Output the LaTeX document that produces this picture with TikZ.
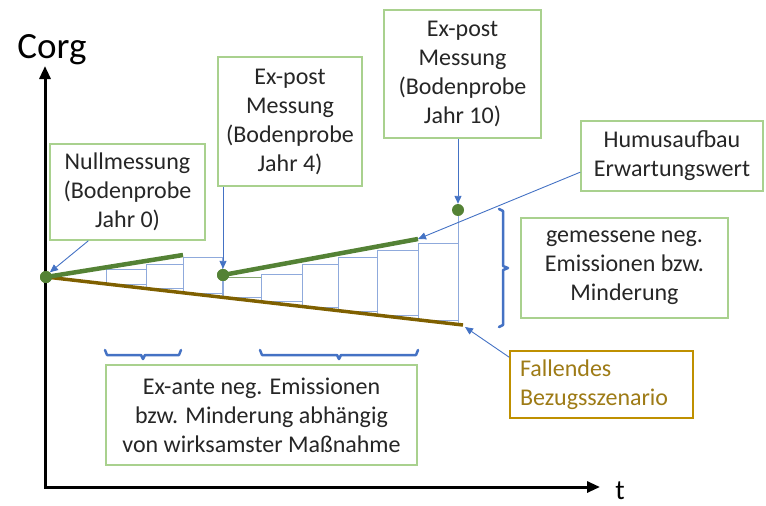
\documentclass[tikz,border=0pt]{standalone}
\usepackage{fontspec}
\setmainfont{Carlito}
\usetikzlibrary{arrows.meta,calc}
\definecolor{gbox}{HTML}{A9D18E}
\definecolor{gline}{HTML}{548235}
\definecolor{bline}{HTML}{7F6000}
\definecolor{stepblue}{HTML}{8FAADC}
\definecolor{connblue}{HTML}{4472C4}
\definecolor{goldbox}{HTML}{BF9000}
\definecolor{goldtext}{HTML}{9E7B16}
\definecolor{txt}{HTML}{262626}
\begin{document}
\begin{tikzpicture}[x=1pt,y=-1pt,
  lbl/.style={draw=gbox, line width=1.5pt, fill=white, align=center, inner sep=0pt,
    font=\fontsize{24}{29}\selectfont, text=txt},
  conn/.style={draw=connblue, line width=0.9pt, -{Triangle[length=8pt,width=7pt]}},
  stepl/.style={draw=stepblue, line width=1pt},
  dot/.style={circle, fill=gline, inner sep=0pt, minimum size=12pt},
  bracel/.style={draw=connblue, line width=2.5pt, line cap=round, line join=round},
  axis/.style={draw=black, line width=3pt, {Triangle[length=13pt,width=11pt]}-{Triangle[length=13pt,width=11pt]}}]
\useasboundingbox (0,0) rectangle (766,506);

% axes
\draw[axis] (45,66) -- (45,487) -- (600,487);
\node[font=\fontsize{37}{40}\selectfont, text=black] (corg) at (52,50) {Corg};
\node[font=\fontsize{28}{30}\selectfont, text=black] (tlab) at (620,491) {t};

% step rectangles, segment 1
\draw[stepl] (106,269) rectangle (146,284);
\draw[stepl] (146,264) rectangle (183,288);
\draw[stepl] (183,257) rectangle (222,293);
\draw[stepl] (222,293) -- (222,297);
% segment 2
\draw[stepl] (223,277) -- (223,297) -- (261,297) -- (261,277);
\draw[draw=gline!70, line width=1pt] (223,277) -- (261,277);
\draw[stepl] (261,274) rectangle (302,301);
\draw[stepl] (302,264) rectangle (338,307);
\draw[stepl] (338,257) rectangle (377,311);
\draw[stepl] (377,250) rectangle (418,315);
\draw[stepl] (418,243) rectangle (458,320);
\draw[stepl] (458,210) -- (458,325);

% lines
\node[dot] (d0) at (46,277) {};
\node[dot] (d4) at (223,275) {};
\node[dot] (d10) at (458,210) {};
\coordinate (g1e) at (183,255);
\coordinate (g2e) at (418,239);
\coordinate (be) at (463,325);
\draw[draw=bline, line width=3.5pt] (d0.center) -- (be);
\draw[draw=gline, line width=4.5pt] (d0.center) -- (g1e);
\draw[draw=gline, line width=4.5pt] (d4.center) -- (g2e);
\node[dot] at (d0) {};
\node[dot] at (d4) {};

% braces
\draw[bracel] (499,209) -- (503,211) -- (503,266) -- (508,268) -- (503,270) -- (503,325) -- (499,327);
\draw[bracel] (105,350) -- (107,355) -- (141,355) -- (143,359) -- (145,355) -- (179,355) -- (181,350);
\draw[bracel] (260,350) -- (262,355) -- (337,355) -- (339,359) -- (341,355) -- (416,355) -- (418,350);

% boxes
\node[lbl, minimum width=155pt, minimum height=96pt] (null) at (127.5,192)
  {Nullmessung\\(Bodenprobe\\Jahr 0)};
\node[lbl, minimum width=144pt, minimum height=129pt] (j4) at (290,121.5)
  {Ex-post\\Messung\\(Bodenprobe\\Jahr 4)};
\node[lbl, minimum width=157pt, minimum height=128pt] (j10) at (462.5,74)
  {Ex-post\\Messung\\(Bodenprobe\\Jahr 10)};
\node[lbl, minimum width=182pt, minimum height=70pt] (humus) at (672,156)
  {Humusaufbau\\Erwartungswert};
\node[lbl, minimum width=207pt, minimum height=100pt] (gem) at (624.5,268)
  {gemessene neg.\\Emissionen bzw.\\Minderung};
\node[lbl, draw=goldbox, text=goldtext, align=left, text width=163pt,
  minimum width=183pt, minimum height=67pt] (fall) at (601.5,384.5)
  {Fallendes\\Bezugsszenario};
\node[lbl, minimum width=311pt, minimum height=100pt] (exante) at (261.5,415)
  {Ex-ante neg. Emissionen\\bzw. Minderung abhängig\\von wirksamster Maßnahme};

% connectors
\draw[conn] ($(null.south west)!0.25!(null.south east)$) -- (d0.50);
\draw[conn] (d4 |- j4.south) -- (d4.north);
\draw[conn] (d10 |- j10.south) -- (d10.north);
\draw[conn] (humus.190) -- (g2e);
\draw[conn] ($(fall.north west)+(0,7)$) -- ($(be)+(2,2)$);
\end{tikzpicture}
\end{document}
